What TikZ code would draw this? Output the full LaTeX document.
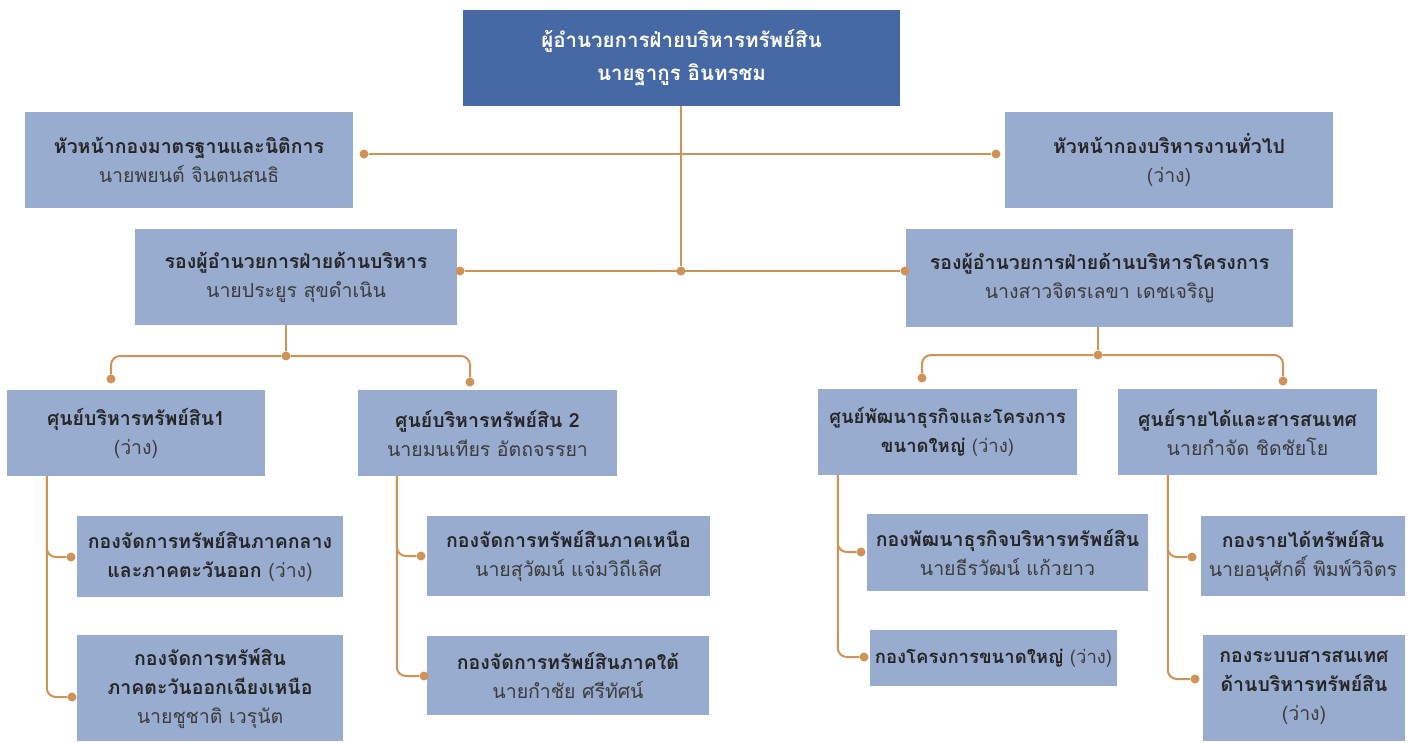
\documentclass[tikz,border=0pt]{standalone}
\usepackage{fontspec}
\setmainfont[Script=Thai]{Loma}
\usetikzlibrary{positioning,calc}
\definecolor{OrgNavy}{HTML}{4668A5}
\definecolor{OrgBlue}{HTML}{97ACCF}
\definecolor{OrgLink}{HTML}{CF9257}
\definecolor{OrgInk}{HTML}{262626}
\definecolor{OrgGrey}{HTML}{3C3C3C}
\newcommand{\orghead}[1]{{\bfseries\color{OrgInk}#1}}

\begin{document}
\begin{tikzpicture}[
    x=1pt, y=-1pt,
    orgbox/.style={
      fill=OrgBlue,
      align=center,
      inner sep=0pt,
      text=OrgGrey,
      font=\fontsize{19.5}{29}\selectfont
    },
    orgsmall/.style={
      font=\fontsize{18.5}{29}\selectfont
    },
    orgtop/.style={
      orgbox,
      fill=OrgNavy,
      text=white,
      font=\fontsize{20.5}{33}\selectfont\bfseries
    },
    orglink/.style={
      draw=OrgLink,
      line width=2pt,
      rounded corners=9pt
    },
    orgdot/.style={
      circle,
      fill=OrgLink,
      inner sep=0pt,
      minimum size=9pt
    }
  ]
  \useasboundingbox (0,0) rectangle (1413,742);

  % ผู้อำนวยการ
  \node[orgtop, minimum width=437, minimum height=96] (director) at (681.5,58) {ผู้อำนวยการฝ่ายบริหารทรัพย์สิน\\นายฐากูร อินทรชม};

  % หัวหน้ากอง
  \node[orgbox, minimum width=328, minimum height=96] (headL) at (189,160) {\orghead{หัวหน้ากองมาตรฐานและนิติการ}\\นายพยนต์ จินตนสนธิ};
  \node[orgbox, minimum width=328, minimum height=96] (headR) at (1169,160) {\orghead{หัวหน้ากองบริหารงานทั่วไป}\\(ว่าง)};

  % รองผู้อำนวยการ
  \node[orgbox, minimum width=322, minimum height=96] (depL) at (296,277) {\orghead{รองผู้อำนวยการฝ่ายด้านบริหาร}\\นายประยูร สุขดำเนิน};
  \node[orgbox, minimum width=387, minimum height=98] (depR) at (1099.5,278) {\orghead{รองผู้อำนวยการฝ่ายด้านบริหารโครงการ}\\นางสาวจิตรเลขา เดชเจริญ};

  % ศูนย์
  \node[orgbox, minimum width=258, minimum height=86] (ctrA) at (136,433) {\orghead{ศุนย์บริหารทรัพย์สิน1}\\(ว่าง)};
  \node[orgbox, minimum width=259, minimum height=86] (ctrB) at (487.5,433) {\orghead{ศูนย์บริหารทรัพย์สิน 2}\\นายมนเทียร อัตถจรรยา};
  \node[orgbox, orgsmall, minimum width=259, minimum height=86] (ctrC) at (947.5,432) {\orghead{ศูนย์พัฒนาธุรกิจและโครงการ}\\\orghead{ขนาดใหญ่} (ว่าง)};
  \node[orgbox, minimum width=259, minimum height=86] (ctrD) at (1247.5,432) {\orghead{ศูนย์รายได้และสารสนเทศ}\\นายกำจัด ชิดชัยโย};

  % กอง
  \node[orgbox, minimum width=266, minimum height=81] (divA1) at (210,556.5) {\orghead{กองจัดการทรัพย์สินภาคกลาง}\\\orghead{และภาคตะวันออก} (ว่าง)};
  \node[orgbox, minimum width=266, minimum height=106] (divA2) at (210,688) {\orghead{กองจัดการทรัพ์สิน}\\\orghead{ภาคตะวันออกเฉียงเหนือ}\\นายชูชาติ เวรุนัต};
  \node[orgbox, minimum width=283, minimum height=80] (divB1) at (568.5,556) {\orghead{กองจัดการทรัพย์สินภาคเหนือ}\\นายสุวัฒน์ แจ่มวิถีเลิศ};
  \node[orgbox, minimum width=282, minimum height=79] (divB2) at (568,675.5) {\orghead{กองจัดการทรัพย์สินภาคใต้}\\นายกำชัย ศรีทัศน์};
  \node[orgbox, minimum width=281, minimum height=77] (divC1) at (1007.5,552.5) {\orghead{กองพัฒนาธุรกิจบริหารทรัพย์สิน}\\นายธีรวัฒน์ แก้วยาว};
  \node[orgbox, orgsmall, minimum width=247, minimum height=56] (divC2) at (993.5,658) {\orghead{กองโครงการขนาดใหญ่} (ว่าง)};
  \node[orgbox, minimum width=204, minimum height=80] (divD1) at (1303,556) {\orghead{กองรายได้ทรัพย์สิน}\\นายอนุศักดิ์ พิมพ์วิจิตร};
  \node[orgbox, minimum width=202, minimum height=106] (divD2) at (1304,688) {\orghead{กองระบบสารสนเทศ}\\\orghead{ด้านบริหารทรัพย์สิน}\\(ว่าง)};

  % จุดต่อ
  \node[orgdot] (hubM) at (681,271) {};
  \node[orgdot] (dotHL) at (364,154) {};
  \node[orgdot] (dotHR) at (996,154) {};
  \node[orgdot] (dotDL) at (460,271) {};
  \node[orgdot] (dotDR) at (905,271) {};

  \node[orgdot] (hubL) at (286,356) {};
  \node[orgdot] (dotCA) at (111,379) {};
  \node[orgdot] (dotCB) at (470,382) {};
  \node[orgdot] (hubR) at (1098,355) {};
  \node[orgdot] (dotCC) at (922,378) {};
  \node[orgdot] (dotCD) at (1283,381) {};

  \node[orgdot] (dotA1) at (71,557) {};
  \node[orgdot] (dotA2) at (72,697) {};
  \node[orgdot] (dotB1) at (421,556) {};
  \node[orgdot] (dotB2) at (424,676) {};
  \node[orgdot] (dotC1) at (861,552) {};
  \node[orgdot] (dotC2) at (864,657) {};
  \node[orgdot] (dotD1) at (1192,557) {};
  \node[orgdot] (dotD2) at (1195,679) {};

  % ระดับบน
  \draw[orglink] (director.south -| hubM) -- (hubM);
  \draw[orglink] (dotHL) -- (dotHR);
  \draw[orglink] (dotDL) -- (dotDR);

  % ใต้รองผู้อำนวยการ
  \draw[orglink] (depL.south -| hubL) -- (hubL);
  \draw[orglink] (hubL) -| (dotCA);
  \draw[orglink] (hubL) -| (dotCB);
  \draw[orglink] (depR.south -| hubR) -- (hubR);
  \draw[orglink] (hubR) -| (dotCC);
  \draw[orglink] (hubR) -| (dotCD);

  % ใต้ศูนย์
  \coordinate (railA) at ($(ctrA.south west)+(40,0)$);
  \coordinate (railB) at ($(ctrB.south west)+(39,0)$);
  \coordinate (railC) at ($(ctrC.south west)+(20,0)$);
  \coordinate (railD) at ($(ctrD.south west)+(50,0)$);
  \draw[orglink] (railA) |- (dotA1);
  \draw[orglink] (railA) |- (dotA2);
  \draw[orglink] (railB) |- (dotB1);
  \draw[orglink] (railB) |- (dotB2);
  \draw[orglink] (railC) |- (dotC1);
  \draw[orglink] (railC) |- (dotC2);
  \draw[orglink] (railD) |- (dotD1);
  \draw[orglink] (railD) |- (dotD2);

\end{tikzpicture}
\end{document}
